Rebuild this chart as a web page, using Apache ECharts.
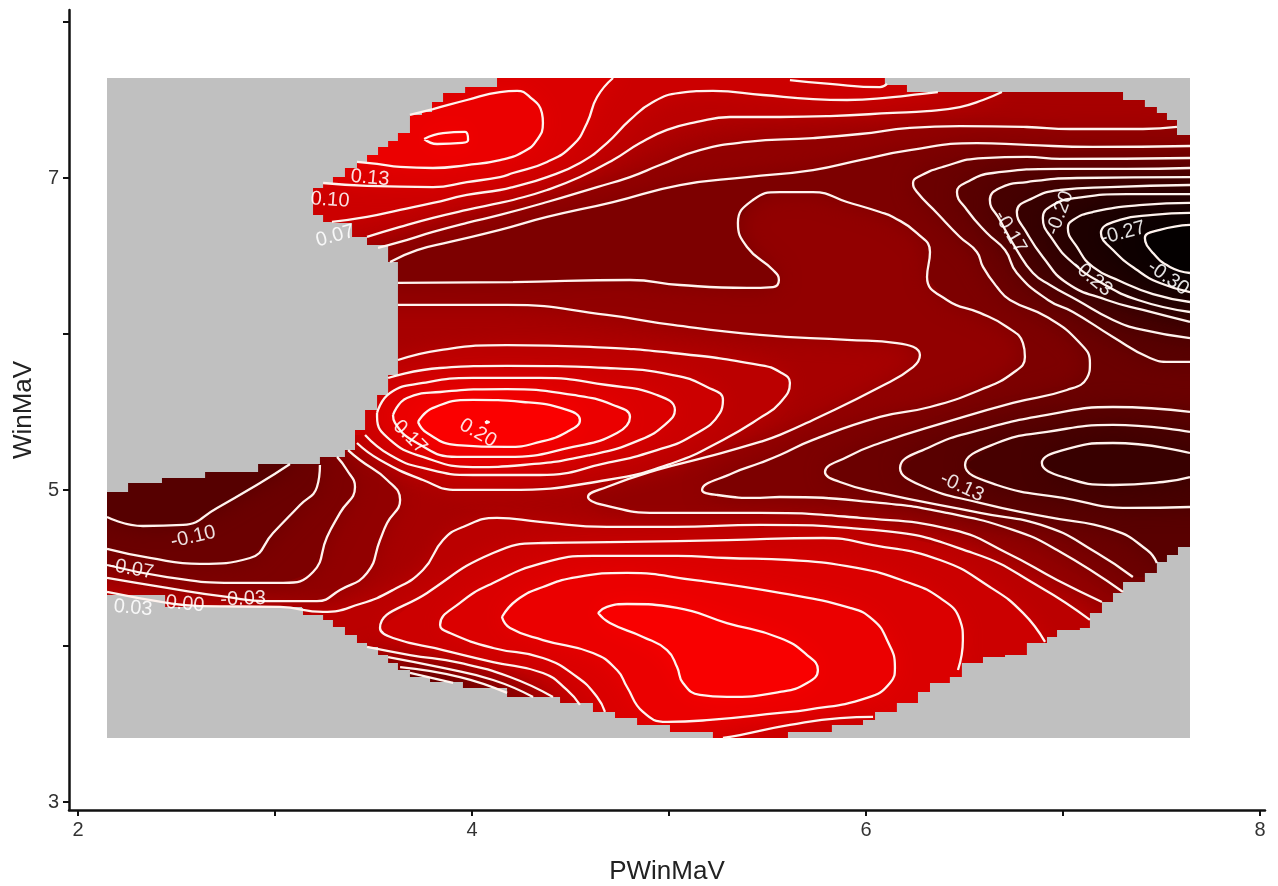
<!DOCTYPE html>
<html><head><meta charset="utf-8"><style>html,body{margin:0;padding:0;background:#fff}#c{width:1278px;height:886px}</style>
<script src="https://cdn.jsdelivr.net/npm/echarts@6/dist/echarts.min.js"></script></head><body><div id="c"></div>
<script>
const xTicks=[2,3,4,5,6,7,8], xLabels=[2,4,6,8];
const yTicks=[3,4,5,6,7,8], yLabels=[3,5,7];
// contour lines in data units (PWinMaV, WinMaV)
const A=[[3.757,7.25],[3.853,7.288],[3.965,7.295],[3.98,7.244],[3.95,7.225],[3.823,7.218],[3.757,7.25]];
const B=[[3.685,7.404],[3.802,7.442],[3.974,7.5],[4.142,7.551],[4.229,7.558],[4.294,7.519],[4.355,7.417],[4.36,7.353],[4.33,7.244],[4.259,7.167],[4.142,7.115],[3.974,7.083],[3.802,7.064],[3.635,7.071],[3.518,7.09],[3.416,7.103]];
const C=[[3.244,6.968],[3.467,6.949],[3.802,6.942],[3.974,6.974],[4.142,7.006],[4.208,7.032],[4.381,7.103],[4.513,7.212],[4.584,7.353],[4.635,7.519],[4.716,7.641]];
const D=[[3.289,6.718],[3.467,6.75],[3.635,6.795],[3.802,6.84],[3.974,6.891],[4.142,6.923],[4.208,6.942],[4.381,7.006],[4.548,7.096],[4.685,7.224],[4.802,7.372],[4.919,7.487],[5.056,7.545],[5.223,7.558],[5.477,7.532],[5.731,7.506],[5.904,7.5],[6.137,7.519],[6.274,7.538],[6.365,7.551]];
const E=[[3.467,6.622],[3.635,6.686],[3.802,6.744],[3.974,6.795],[4.142,6.84],[4.208,6.859],[4.381,6.923],[4.548,7.006],[4.716,7.115],[4.853,7.224],[4.99,7.308],[5.142,7.359],[5.31,7.391],[5.563,7.391],[5.817,7.397],[6.137,7.417],[6.31,7.429],[6.477,7.455],[6.594,7.5],[6.69,7.551]];
const F=[[3.523,6.552],[3.635,6.59],[3.802,6.654],[3.974,6.712],[4.142,6.763],[4.381,6.846],[4.635,6.942],[4.802,7.006],[4.954,7.083],[5.157,7.179],[5.396,7.231],[5.731,7.256],[5.97,7.282],[6.223,7.321],[6.477,7.333],[6.817,7.327],[7.036,7.314],[7.406,7.314],[7.579,7.327]];
const G=[[3.584,6.462],[3.721,6.538],[3.888,6.59],[4.142,6.667],[4.381,6.75],[4.716,6.846],[5.056,6.955],[5.396,7.006],[5.731,7.051],[5.97,7.115],[6.223,7.179],[6.563,7.224],[6.817,7.212],[7.152,7.199],[7.645,7.205]];
const T=[[5.614,7.628],[5.817,7.603],[6.071,7.583],[6.107,7.603]];
const P0=[[3.624,6.327],[4.208,6.333],[4.802,6.346],[5.056,6.314],[5.396,6.295],[5.528,6.301],[5.558,6.346],[5.528,6.41],[5.396,6.558],[5.35,6.712],[5.426,6.859],[5.563,6.91],[5.731,6.91],[5.904,6.846],[6.071,6.782],[6.137,6.75],[6.259,6.647],[6.325,6.526],[6.31,6.365],[6.411,6.218],[6.579,6.135],[6.716,6.045],[6.797,5.942],[6.807,5.853],[6.746,5.75],[6.579,5.641],[6.325,5.532],[6.071,5.468],[5.731,5.321],[5.563,5.224],[5.462,5.173],[5.325,5.109],[5.168,5],[5.244,4.968],[5.462,4.949],[5.563,4.955],[6.071,4.917],[6.411,4.853],[6.746,4.744],[6.97,4.615],[7.305,4.346]];
const P1=[[3.624,6.186],[4.178,6.186],[4.685,6.122],[5.02,6.058],[5.462,5.994],[5.904,5.962],[6.157,5.942],[6.274,5.865],[6.239,5.788],[6.071,5.66],[5.731,5.449],[5.563,5.353],[5.462,5.308],[5.193,5.212],[4.939,5.128],[4.685,5.019],[4.589,4.955],[4.665,4.904],[4.939,4.853],[5.462,4.853],[5.97,4.821],[6.442,4.744],[6.716,4.596],[6.97,4.423],[7.198,4.282]];
const La=[[3.624,5.833],[3.838,5.897],[4.178,5.929],[4.599,5.917],[5.02,5.878],[5.462,5.801],[5.563,5.756],[5.614,5.686],[5.563,5.558],[5.462,5.462],[5.274,5.321],[5.02,5.173],[4.685,5.064],[4.178,5],[3.924,5],[3.751,5.064],[3.533,5.192],[3.416,5.301]];
const L07=[[3.574,5.718],[3.838,5.782],[4.178,5.795],[4.685,5.782],[5.02,5.737],[5.193,5.66],[5.274,5.577],[5.259,5.494],[5.107,5.34],[4.939,5.256],[4.685,5.173],[4.345,5.096],[4.005,5.096],[3.751,5.141],[3.584,5.224],[3.457,5.353]];
const L10=[[3.518,5.494],[3.584,5.622],[3.751,5.686],[4.005,5.718],[4.345,5.718],[4.685,5.673],[4.939,5.609],[5.03,5.513],[4.99,5.43],[4.853,5.321],[4.599,5.224],[4.259,5.16],[4.005,5.147],[3.751,5.212],[3.584,5.321],[3.518,5.468],[3.518,5.494]];
const L13=[[3.599,5.481],[3.67,5.59],[3.838,5.628],[4.178,5.647],[4.513,5.609],[4.716,5.545],[4.802,5.468],[4.736,5.365],[4.513,5.276],[4.178,5.212],[3.924,5.212],[3.721,5.301],[3.609,5.43],[3.599,5.481]];
const L17=[[3.726,5.436],[3.802,5.526],[4.005,5.577],[4.259,5.564],[4.482,5.513],[4.548,5.449],[4.482,5.372],[4.345,5.308],[4.178,5.276],[3.924,5.288],[3.772,5.365],[3.726,5.436]];
const L20=[[4.071,5.442],[4.086,5.435],[4.071,5.429],[4.071,5.442]];
const R1=[[7.645,6.699],[7.492,6.667],[7.416,6.615],[7.457,6.519],[7.543,6.43],[7.645,6.391]];
const R2=[[7.645,6.776],[7.457,6.763],[7.289,6.731],[7.193,6.647],[7.254,6.538],[7.376,6.41],[7.492,6.327],[7.645,6.269]];
const R3=[[7.645,6.84],[7.406,6.827],[7.152,6.782],[7.051,6.731],[7.025,6.679],[7.071,6.558],[7.152,6.43],[7.289,6.34],[7.457,6.256],[7.645,6.205]];
const R4=[[7.645,6.897],[7.325,6.897],[7.071,6.872],[6.949,6.827],[6.898,6.744],[6.949,6.603],[7.051,6.455],[7.188,6.333],[7.381,6.218],[7.645,6.141]];
const R5=[[7.645,6.955],[7.239,6.942],[6.985,6.923],[6.848,6.872],[6.766,6.782],[6.817,6.647],[6.898,6.494],[7.02,6.327],[7.223,6.218],[7.406,6.154],[7.645,6.077]];
const R6=[[7.645,7.006],[7.071,7],[6.817,6.974],[6.68,6.936],[6.629,6.859],[6.68,6.731],[6.766,6.538],[6.848,6.391],[6.934,6.314],[7.071,6.218],[7.254,6.09],[7.406,6.026],[7.645,5.974]];
const R7=[[7.645,7.064],[7.325,7.058],[6.985,7.058],[6.645,7.032],[6.513,6.974],[6.462,6.91],[6.513,6.795],[6.614,6.647],[6.706,6.538],[6.766,6.391],[6.924,6.218],[7.051,6.141],[7.254,5.981],[7.442,5.846],[7.543,5.821],[7.645,5.821]];
const R8=[[7.645,7.128],[6.985,7.122],[6.817,7.135],[6.594,7.128],[6.391,7.071],[6.264,7.006],[6.239,6.968],[6.259,6.91],[6.36,6.776],[6.477,6.622],[6.563,6.526],[6.594,6.43],[6.665,6.301],[6.731,6.218],[6.919,6.109],[7.086,5.942],[7.137,5.814],[7.122,5.718],[7.02,5.641],[6.746,5.558],[6.411,5.436],[6.071,5.301],[5.904,5.212],[5.792,5.115],[5.868,5.051],[6.071,4.981],[6.579,4.853],[6.919,4.763],[7.173,4.596],[7.355,4.442]];
const E1=[[7.645,5.237],[7.254,5.301],[7,5.256],[6.893,5.173],[7,5.083],[7.254,5.032],[7.508,5.051],[7.645,5.083]];
const E2=[[7.645,5.372],[7.254,5.417],[6.919,5.372],[6.665,5.301],[6.503,5.16],[6.665,5.032],[7,4.949],[7.34,4.885],[7.645,4.891]];
const E3=[[7.645,5.5],[7.254,5.532],[6.919,5.481],[6.579,5.385],[6.325,5.276],[6.173,5.141],[6.274,5.032],[6.579,4.917],[6.919,4.827],[7.254,4.744],[7.427,4.615],[7.477,4.532]];
const P2=[[2.147,4.346],[2.452,4.276],[2.619,4.256],[3.025,4.25],[3.244,4.218],[3.431,4.269],[3.599,4.359],[3.751,4.487],[3.853,4.679],[3.954,4.763],[4.127,4.821],[4.345,4.795],[4.685,4.763],[5.02,4.763],[5.462,4.776],[6.036,4.744],[6.543,4.596],[6.883,4.378],[7.137,4.167]];
const P3=[[4.548,3.622],[4.482,3.718],[4.36,3.827],[4.107,3.897],[3.853,3.974],[3.599,4.051],[3.533,4.115],[3.772,4.34],[4.107,4.596],[4.36,4.66],[4.787,4.667],[5.294,4.679],[5.782,4.692],[6.036,4.647],[6.376,4.551],[6.629,4.378],[6.797,4.212],[6.909,4.026]];
const P4=[[4.675,3.577],[4.635,3.673],[4.533,3.801],[4.36,3.923],[4.107,3.987],[3.888,4.083],[3.838,4.135],[3.939,4.276],[4.107,4.404],[4.36,4.532],[4.614,4.577],[5.041,4.577],[5.294,4.564],[5.614,4.551],[5.954,4.5],[6.208,4.41],[6.376,4.308],[6.477,4.167],[6.492,4.038],[6.467,3.846]];
const P5=[[4.152,4.186],[4.228,4.295],[4.36,4.378],[4.533,4.442],[4.787,4.468],[5.122,4.423],[5.563,4.34],[5.919,4.244],[6.036,4.167],[6.107,4.038],[6.147,3.865],[6.122,3.763],[6.005,3.667],[5.701,3.59],[5.563,3.571],[5.208,3.526],[4.99,3.513],[4.868,3.577],[4.787,3.737],[4.736,3.846],[4.614,3.955],[4.36,4.038],[4.193,4.115],[4.152,4.186]];
const P6=[[4.64,4.212],[4.685,4.25],[4.787,4.269],[5.041,4.244],[5.294,4.147],[5.563,4.051],[5.701,3.942],[5.756,3.846],[5.701,3.763],[5.563,3.705],[5.294,3.673],[5.157,3.686],[5.071,3.763],[5.041,3.865],[4.99,3.974],[4.868,4.058],[4.7,4.147],[4.64,4.212]];
const P7=[[5.274,3.41],[5.36,3.429],[5.614,3.494],[5.868,3.538],[6.036,3.545]];
const Q1=[[2.147,4.827],[2.33,4.769],[2.533,4.776],[2.706,4.885],[2.924,5.045],[3.076,5.167]];
const Q2=[[2.147,4.622],[2.365,4.564],[2.619,4.526],[2.873,4.564],[2.99,4.724],[3.127,4.904],[3.213,5.019],[3.228,5.16]];
const Q3=[[2.147,4.519],[2.452,4.442],[2.787,4.404],[3.041,4.404],[3.193,4.474],[3.264,4.699],[3.33,4.853],[3.406,5.019],[3.365,5.128],[3.315,5.212]];
const Q4=[[2.147,4.436],[2.452,4.372],[2.756,4.314],[2.959,4.288],[3.213,4.288],[3.33,4.359],[3.467,4.468],[3.533,4.679],[3.569,4.788],[3.635,4.936],[3.569,5.064],[3.431,5.192],[3.371,5.256]];
const S1=[[3.467,3.994],[3.685,3.942],[3.939,3.891],[4.193,3.801],[4.411,3.673]];
const S2=[[3.574,3.929],[3.853,3.859],[4.107,3.782],[4.31,3.673]];
const S3=[[3.635,3.865],[3.939,3.801],[4.178,3.699]];
const S4=[[3.685,3.827],[3.904,3.763]];
const contourLines=[A,B,C,D,E,F,G,T,P0,P1,La,L07,L10,L13,L17,L20,R1,R2,R3,R4,R5,R6,R7,R8,E1,E2,E3,P2,P3,P4,P5,P6,P7,Q1,Q2,Q3,Q4,S1,S2,S3,S4];
// edge of the measured area, and the plotted rectangle
const outline=[[4.127,7.641],[6.096,7.641],[6.096,7.596],[6.208,7.596],[6.208,7.551],[7.305,7.551],[7.305,7.5],[7.416,7.5],[7.416,7.455],[7.477,7.455],[7.477,7.417],[7.528,7.417],[7.528,7.372],[7.579,7.372],[7.579,7.276],[7.645,7.276],[7.645,4.692],[7.584,4.635],[7.528,4.583],[7.477,4.538],[7.416,4.468],[7.305,4.41],[7.254,4.34],[7.198,4.282],[7.137,4.212],[7.086,4.115],[6.97,4.103],[6.919,4.058],[6.817,4.019],[6.706,3.942],[6.594,3.929],[6.487,3.891],[6.426,3.801],[6.325,3.763],[6.264,3.705],[6.157,3.635],[6.046,3.577],[5.985,3.526],[5.827,3.494],[5.604,3.449],[5.604,3.41],[5.223,3.41],[5.223,3.442],[5.005,3.449],[4.838,3.494],[4.726,3.538],[4.614,3.577],[4.447,3.635],[4.178,3.673],[3.954,3.731],[3.787,3.769],[3.685,3.801],[3.624,3.846],[3.574,3.891],[3.523,3.942],[3.467,3.994],[3.416,4.019],[3.355,4.071],[3.294,4.122],[3.244,4.167],[3.142,4.199],[3.137,4.244],[2.442,4.25],[2.315,4.327],[2.147,4.327],[2.147,4.987],[2.254,5.045],[2.426,5.077],[2.645,5.115],[2.914,5.167],[3.228,5.212],[3.355,5.256],[3.406,5.385],[3.457,5.513],[3.518,5.609],[3.574,5.737],[3.624,6.218],[3.624,6.455],[3.574,6.462],[3.574,6.538],[3.467,6.571],[3.467,6.622],[3.391,6.622],[3.289,6.712],[3.244,6.718],[3.193,6.763],[3.193,6.936],[3.244,6.968],[3.294,7.006],[3.355,7.064],[3.416,7.103],[3.467,7.147],[3.523,7.199],[3.574,7.237],[3.624,7.288],[3.685,7.404],[3.746,7.423],[3.797,7.487],[3.853,7.545],[3.965,7.583],[4.127,7.641]];
const plotX=[2.147,7.645], plotY=[3.41,7.641];
// value -> red channel of the black-to-red scale
const scaleValues=[-0.33,-0.3,-0.27,-0.23,-0.2,-0.17,-0.13,-0.1,-0.07,-0.03,0,0.03,0.07,0.1,0.13,0.17,0.2];
const scaleReds=[0,8,22,38,50,62,80,98,115,135,156,178,196,212,226,243,255];
// contour labels: text, x, y, rotation
const contourLabels=[["0.13",3.482,7,-5],["0.10",3.279,6.859,-4],["0.07",3.305,6.628,15],["-0.10",2.584,4.699,13],["-0.07",2.269,4.494,-10],["0.03",2.279,4.244,-5],["0.00",2.543,4.269,-5],["-0.03",2.838,4.301,2],["0.17",3.685,5.34,-45],["0.20",4.03,5.365,-30],["-0.13",6.487,5.019,-25],["-0.17",6.731,6.654,-60],["-0.20",6.985,6.776,70],["-0.27",7.305,6.647,15],["-0.23",7.147,6.359,-40],["-0.30",7.533,6.359,-35]];
const colr=v=>{let i=0;while(i<scaleValues.length-2&&v>scaleValues[i+1])i++;
 const t=Math.max(0,Math.min(1,(v-scaleValues[i])/(scaleValues[i+1]-scaleValues[i])));
 const r=Math.round(scaleReds[i]+t*(scaleReds[i+1]-scaleReds[i]));return 'rgb('+r+',0,0)';};
const OUTX=7.746,OUTL=2.061,OUTT=7.756,OUTB=3.269;
const right=l=>l.concat([[OUTX,l[l.length-1][1]],[OUTX,l[0][1]]]);
const rev=l=>l.slice().reverse();
// filled bands, painted in order; each has the band's value
const bands=[
 [0.015,[[OUTL,OUTB],[OUTX,OUTB],[OUTX,OUTT],[OUTL,OUTT]]],
 [0.05,E.concat([[6.69,OUTT],[3.127,OUTT],[3.127,6.622]])],
 [0.085,D.concat([[6.365,OUTT],[3.127,OUTT],[3.127,6.718]])],
 [0.115,C.concat([[4.716,OUTT],[3.127,OUTT],[3.127,6.968]])],
 [0.09,T.concat([[6.107,OUTT],[5.614,OUTT]])],
 [0.15,B.concat([[3.127,7.103],[3.127,OUTT],[3.685,OUTT]])],
 [0.185,A],
 [-0.015,F.concat([[OUTX,7.327],[OUTX,4.0]],rev(P1),[[3.431,6.186],[3.431,6.552]])],
 [-0.05,G.concat([[OUTX,7.205],[OUTX,4.1]],rev(P0),[[3.431,6.327],[3.431,6.462]])],
 [-0.085,right(R8)],[-0.115,right(R7)],[-0.115,right(E3)],[-0.15,right(R6)],[-0.15,right(E2)],
 [-0.185,right(R5)],[-0.185,right(E1)],[-0.215,right(R4)],[-0.25,right(R3)],[-0.285,right(R2)],[-0.315,right(R1)],
 [-0.015,Q4.concat([[3.33,5.321],[OUTL,5.321],[OUTL,4.436]])],
 [-0.05,Q3.concat([[3.29,5.321],[OUTL,5.321],[OUTL,4.519]])],
 [-0.085,Q2.concat([[3.228,5.321],[OUTL,5.321],[OUTL,4.622]])],
 [-0.12,Q1.concat([[3.076,5.321],[OUTL,5.321],[OUTL,4.827]])],
 [0.05,La.concat([[3.33,5.301],[3.33,5.833]])],
 [0.085,L07.concat([[3.38,5.353],[3.38,5.718]])],
 [0.115,L10],[0.15,L13],[0.19,L17],[0.2,L20],
 [0.05,P2.concat([[7.3,OUTB],[OUTL,OUTB],[OUTL,4.346]])],
 [0.015,S1.concat([[4.411,OUTB],[3.467,OUTB]])],
 [-0.015,S2.concat([[4.31,OUTB],[3.574,OUTB]])],
 [-0.05,S3.concat([[4.178,OUTB],[3.635,OUTB]])],
 [-0.085,S4.concat([[3.904,OUTB],[3.685,OUTB]])],
 [0.085,P3.concat([[7.2,OUTB],[4.5,OUTB]])],
 [0.115,P4.concat([[6.7,OUTB],[4.62,OUTB]])],
 [0.085,P7.concat([[6.036,OUTB],[5.274,OUTB]])],
 [0.15,P5],[0.185,P6]
];
function steps(o){const r=[];o.forEach((p,i)=>{if(i){const q=o[i-1];
  if(q[0]!==p[0]&&q[1]!==p[1])r.push(p[0]<q[0]?[q[0],p[1]]:[p[0],q[1]]);}r.push(p);});return r;}
const stepped=steps(outline);
const maskPts=[[OUTL,OUTT],[OUTX,OUTT],[OUTX,OUTB],[OUTL,OUTB],[OUTL,OUTT],[stepped[0][0],OUTT]].concat(stepped.slice().reverse(),[[stepped[0][0],OUTT]]);
const axisText={color:'#333',fontFamily:'Liberation Sans, Arial',fontSize:20};
const axisLine={show:true,onZero:false,lineStyle:{color:'#111',width:2.5}};
const tick=v=>({show:true,length:6,lineStyle:{color:'#111',width:2},customValues:v});
const chart=echarts.init(document.getElementById('c'),null,{renderer:'canvas'});
chart.setOption({animation:false,backgroundColor:'#fff',
 grid:[{left:69,top:10,width:1196,height:800,outerBoundsMode:'none'},{left:107,top:78,width:1083,height:660,outerBoundsMode:'none'}],
 xAxis:[{type:'value',gridIndex:0,min:1.954,max:8.025,name:'PWinMaV',nameLocation:'middle',nameGap:49,
   nameTextStyle:{color:'#222',fontFamily:'Liberation Sans, Arial',fontSize:26},
   axisLine,axisTick:tick(xTicks),splitLine:{show:false},axisLabel:Object.assign({customValues:xLabels,margin:10,formatter:v=>String(v)},axisText)},
  {type:'value',gridIndex:1,min:plotX[0],max:plotX[1],show:false}],
 yAxis:[{type:'value',gridIndex:0,min:2.949,max:8.077,name:'WinMaV',nameLocation:'middle',nameGap:30,
   nameTextStyle:{color:'#222',fontFamily:'Liberation Sans, Arial',fontSize:26},
   axisLine,axisTick:tick(yTicks),splitLine:{show:false},axisLabel:Object.assign({customValues:yLabels,margin:10,formatter:v=>String(v)},axisText)},
  {type:'value',gridIndex:1,min:plotY[0],max:plotY[1],show:false}],
 series:[
  {type:'custom',name:'field',coordinateSystem:'cartesian2d',xAxisIndex:1,yAxisIndex:1,clip:true,silent:true,z:1,
   data:bands.map((b,i)=>[i,b[0]]),
   renderItem:(p,api)=>{const b=bands[p.dataIndex],c=colr(b[0]);
     return {type:'polygon',shape:{points:b[1].map(q=>api.coord(q))},style:{fill:c,shadowBlur:22,shadowColor:c}};}},
  {type:'custom',name:'mask',coordinateSystem:'cartesian2d',xAxisIndex:1,yAxisIndex:1,clip:true,silent:true,z:2,
   data:[[plotX[0],plotY[0]]],
   renderItem:(p,api)=>({type:'polygon',shape:{points:maskPts.map(q=>api.coord(q))},style:{fill:'#c0c0c0'}})},
  ...contourLines.map(l=>({type:'line',xAxisIndex:1,yAxisIndex:1,data:l,symbol:'none',smooth:0.5,silent:true,z:3,clip:false,
    lineStyle:{color:'#fff3ee',width:2.3}})),
  {type:'scatter',xAxisIndex:0,yAxisIndex:0,z:4,silent:true,symbolSize:1,itemStyle:{color:'transparent'},
   data:contourLabels.map(a=>({value:[a[1],a[2]],label:{show:true,position:'inside',formatter:a[0],rotate:a[3],color:'#fff',
     fontFamily:'Liberation Sans, Arial',fontSize:20,opacity:0.88}}))}
 ]});
</script></body></html>
